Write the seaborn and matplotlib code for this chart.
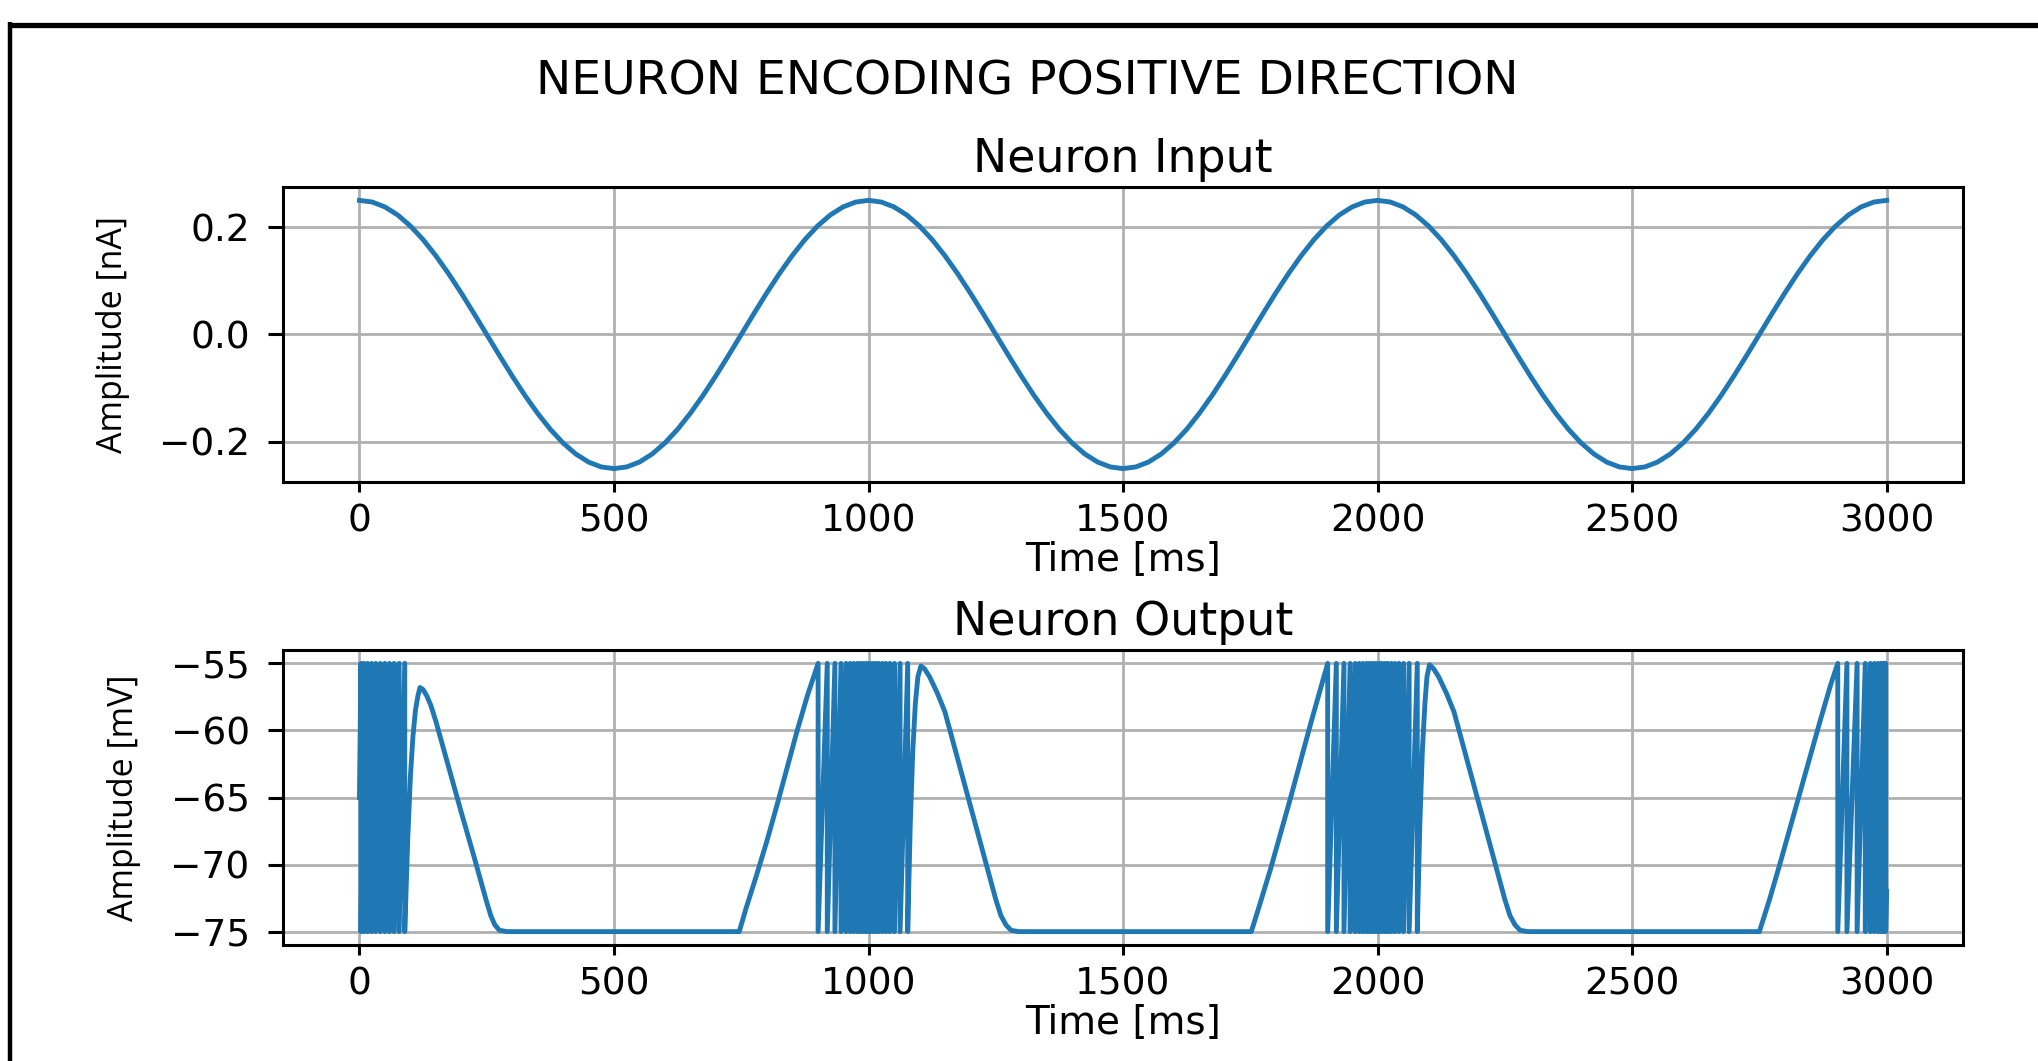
import seaborn as sns
import matplotlib.pyplot as plt
from matplotlib.lines import Line2D

# input current, sampled every 25 ms
input_time = list(range(0, 3001, 25))
input_amp = [
    0.2500, 0.2469, 0.2378, 0.2228, 0.2023, 0.1768, 0.1469, 0.1135, 0.0773, 0.0391,
    0.0000, -0.0391, -0.0773, -0.1135, -0.1469, -0.1768, -0.2023, -0.2228, -0.2378, -0.2469,
    -0.2500, -0.2469, -0.2378, -0.2228, -0.2023, -0.1768, -0.1469, -0.1135, -0.0773, -0.0391,
    0.0000, 0.0391, 0.0773, 0.1135, 0.1469, 0.1768, 0.2023, 0.2228, 0.2378, 0.2469,
    0.2500, 0.2469, 0.2378, 0.2228, 0.2023, 0.1768, 0.1469, 0.1135, 0.0773, 0.0391,
    0.0000, -0.0391, -0.0773, -0.1135, -0.1469, -0.1768, -0.2023, -0.2228, -0.2378, -0.2469,
    -0.2500, -0.2469, -0.2378, -0.2228, -0.2023, -0.1768, -0.1469, -0.1135, -0.0773, -0.0391,
    0.0000, 0.0391, 0.0773, 0.1135, 0.1469, 0.1768, 0.2023, 0.2228, 0.2378, 0.2469,
    0.2500, 0.2469, 0.2378, 0.2228, 0.2023, 0.1768, 0.1469, 0.1135, 0.0773, 0.0391,
    0.0000, -0.0391, -0.0773, -0.1135, -0.1469, -0.1768, -0.2023, -0.2228, -0.2378, -0.2469,
    -0.2500, -0.2469, -0.2378, -0.2228, -0.2023, -0.1768, -0.1469, -0.1135, -0.0773, -0.0391,
    0.0000, 0.0391, 0.0773, 0.1135, 0.1469, 0.1768, 0.2023, 0.2228, 0.2378, 0.2469,
    0.2500,
]

# membrane potential: spike times per burst (threshold -55, reset -75)
v_start = -65
v_thresh = -55
v_reset = -75
burst1 = [3, 9, 16, 24, 32, 41, 50, 59, 68, 78, 89]
burst2 = [901, 919, 934, 946, 956, 964, 971, 978, 984, 990, 996, 1002, 1008, 1014,
          1020, 1027, 1034, 1042, 1051, 1062, 1077]
burst3 = [1902, 1919, 1934, 1946, 1956, 1964, 1971, 1978, 1984, 1990, 1996, 2002,
          2008, 2014, 2020, 2027, 2034, 2042, 2051, 2062, 2078]
burst4 = [2904, 2922, 2942, 2958, 2968, 2976, 2983, 2989, 2994, 2998]

# slow parts between bursts
gap1_t = [95, 100, 105, 110, 115, 119, 125, 132, 140, 150, 175, 200, 225, 250, 258,
          266, 275, 290, 746, 760, 780, 800, 820, 840, 860, 880]
gap1_v = [-68, -63.5, -60.5, -58.5, -57.4, -56.8, -56.95, -57.4, -58.1, -59.3, -62.7,
          -66.1, -69.4, -72.8, -73.8, -74.5, -74.9, -75, -75, -73.2, -70.8, -68.3,
          -65.6, -62.8, -60.0, -57.4]
gap2_t = [1082, 1087, 1092, 1097, 1103, 1110, 1120, 1135, 1150, 1250, 1260, 1270,
          1280, 1295, 1752, 1770, 1790, 1810, 1830, 1850, 1870, 1890]
gap2_v = [-67, -61.5, -58, -56, -55.2, -55.4, -56.0, -57.2, -58.6, -72.6, -73.8,
          -74.5, -74.9, -75, -75, -72.8, -70.3, -67.6, -64.9, -62.1, -59.3, -56.6]
gap3_t = [2083, 2088, 2093, 2097, 2102, 2110, 2120, 2135, 2150, 2250, 2260, 2270,
          2280, 2295, 2750, 2770, 2790, 2810, 2830, 2850, 2870, 2890]
gap3_v = [-67, -61.5, -58, -56, -55.1, -55.4, -56.0, -57.2, -58.6, -72.6, -73.8,
          -74.5, -74.9, -75, -75, -72.6, -70.0, -67.3, -64.6, -61.9, -59.2, -56.6]
end_t = [3000]
end_v = [-72]

bursts = [burst1, burst2, burst3, burst4]
gaps = [(gap1_t, gap1_v), (gap2_t, gap2_v), (gap3_t, gap3_v), (end_t, end_v)]

out_t, out_v = [0], [v_start]
for spikes, (gt, gv) in zip(bursts, gaps):
    for s in spikes:
        out_t += [s, s]
        out_v += [v_thresh, v_reset]
    out_t += gt
    out_v += gv

line_col = "#1f77b4"
tick_fs = 27

fig = plt.figure(figsize=(20.38, 10.61), dpi=100)
ax1 = fig.add_axes([0.1389, 0.5457, 0.8243, 0.2781])
ax2 = fig.add_axes([0.1389, 0.1093, 0.8243, 0.2781])

sns.lineplot(x=input_time, y=input_amp, ax=ax1, color=line_col, linewidth=3.5,
             estimator=None, sort=False)
sns.lineplot(x=out_t, y=out_v, ax=ax2, color=line_col, linewidth=3.5,
             estimator=None, sort=False)

ax1.set_yticks([-0.2, 0.0, 0.2])
ax1.set_yticklabels(["\u22120.2", "0.0", "0.2"])
ax2.set_yticks([-75, -70, -65, -60, -55])

for ax, title, ylab in [(ax1, "Neuron Input", "Amplitude [nA]"),
                        (ax2, "Neuron Output", "Amplitude [mV]")]:
    ax.set_xticks([0, 500, 1000, 1500, 2000, 2500, 3000])
    ax.set_xlim(-150, 3150)
    ax.grid(True, color="#b0b0b0", linewidth=2.0)
    ax.set_axisbelow(True)
    ax.tick_params(axis="x", length=7.5, width=2.2, pad=8, labelsize=tick_fs)
    ax.tick_params(axis="y", length=11, width=2.2, pad=13, labelsize=tick_fs)
    for sp in ax.spines.values():
        sp.set_linewidth(2.2)
    ax.set_title(title, fontsize=33, pad=11)
    ax.set_xlabel("Time [ms]", fontsize=28, labelpad=1)
    ax.set_ylabel(ylab, fontsize=24.5, family="Open Sans", labelpad=21)

ax1.set_ylim(-0.275, 0.275)
ax2.set_ylim(-76, -54)

fig.text(0.504, 0.9227, "NEURON ENCODING POSITIVE DIRECTION", fontsize=34,
         ha="center", va="center")

# screenshot frame (top and left edges)
fig.add_artist(Line2D([8 / 2038, 1.0], [1 - 24.5 / 1061] * 2, color="black",
                      linewidth=3.8, solid_capstyle="butt",
                      transform=fig.transFigure))
fig.add_artist(Line2D([10 / 2038] * 2, [0.0, 1 - 22 / 1061], color="black",
                      linewidth=3.2, solid_capstyle="butt",
                      transform=fig.transFigure))

fig.savefig("out.png", dpi=100)
